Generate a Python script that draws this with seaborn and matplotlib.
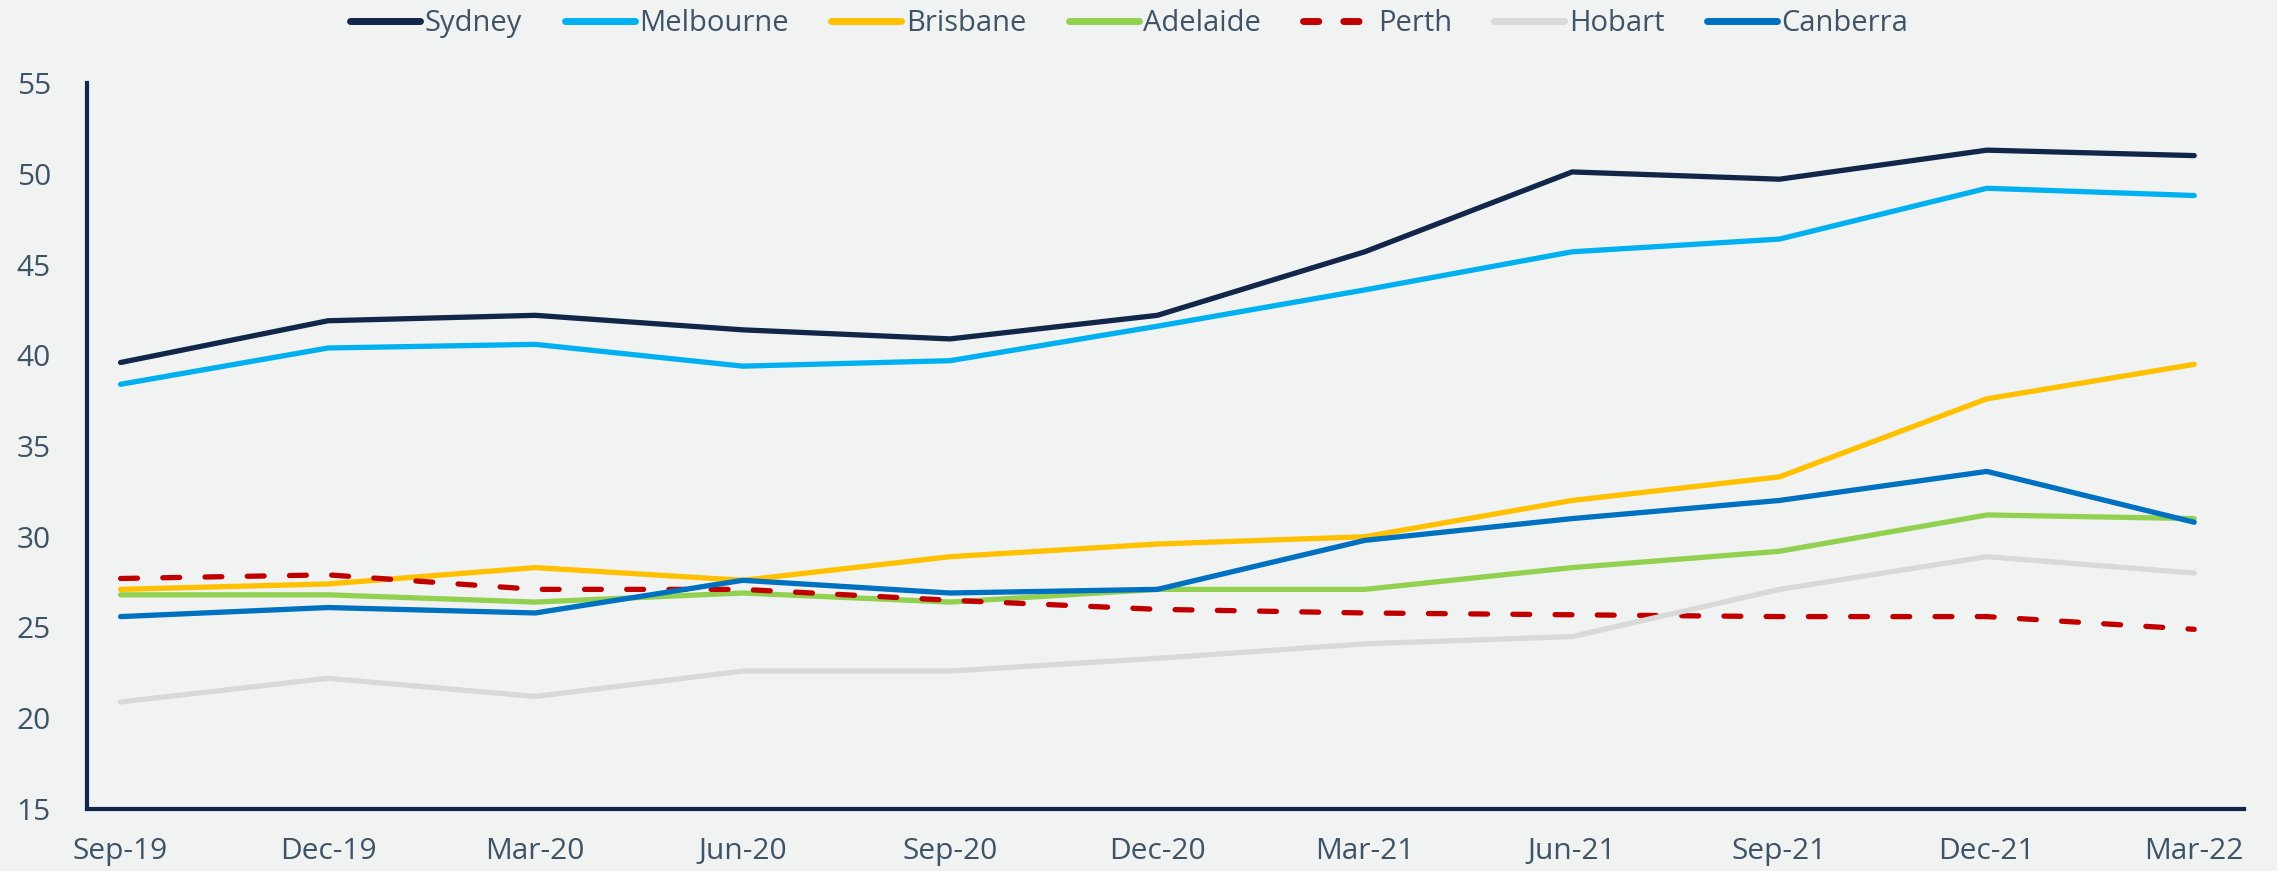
import matplotlib
matplotlib.use("Agg")
import matplotlib.pyplot as plt
import numpy as np
import pandas as pd
import seaborn as sns

# Data
quarters = ["Sep-19", "Dec-19", "Mar-20", "Jun-20", "Sep-20", "Dec-20",
            "Mar-21", "Jun-21", "Sep-21", "Dec-21", "Mar-22"]

sydney = [39.6, 41.9, 42.2, 41.4, 40.9, 42.2, 45.7, 50.1, 49.7, 51.3, 51.0]
melbourne = [38.4, 40.4, 40.6, 39.4, 39.7, 41.6, 43.6, 45.7, 46.4, 49.2, 48.8]
brisbane = [27.1, 27.4, 28.3, 27.6, 28.9, 29.6, 30.0, 32.0, 33.3, 37.6, 39.5]
adelaide = [26.8, 26.8, 26.4, 26.9, 26.4, 27.1, 27.1, 28.3, 29.2, 31.2, 31.0]
perth = [27.7, 27.9, 27.1, 27.1, 26.5, 26.0, 25.8, 25.7, 25.6, 25.6, 24.9]
hobart = [20.9, 22.2, 21.2, 22.6, 22.6, 23.3, 24.1, 24.5, 27.1, 28.9, 28.0]
canberra = [25.6, 26.1, 25.8, 27.6, 26.9, 27.1, 29.8, 31.0, 32.0, 33.6, 30.8]

cities = ["Sydney", "Melbourne", "Brisbane", "Adelaide", "Perth", "Hobart", "Canberra"]
series = [sydney, melbourne, brisbane, adelaide, perth, hobart, canberra]

colors = {"Sydney": "#12264A", "Melbourne": "#00B0F0", "Brisbane": "#FFC000",
          "Adelaide": "#92D050", "Perth": "#C00000", "Hobart": "#D9D9D9",
          "Canberra": "#0070C0"}
dashes = {c: "" for c in cities}
dashes["Perth"] = (3.2, 4.8)

rows = []
for c, vals in zip(cities, series):
    for i, v in enumerate(vals):
        rows.append({"city": c, "idx": i, "value": v})
df = pd.DataFrame(rows)

bg = "#F1F2F2"
txt = "#3F5366"
navy = "#12264A"

sns.set_style("white")
plt.rcParams['font.family'] = ['Open Sans', 'DejaVu Sans']

fig = plt.figure(figsize=(22.77, 8.71), dpi=100, facecolor=bg)
ax = fig.add_axes([0.0382, 0.0712, 0.9473, 0.8335])
ax.set_facecolor(bg)

sns.lineplot(data=df, x="idx", y="value", hue="city", style="city",
             hue_order=cities, style_order=cities, palette=colors,
             dashes=dashes, linewidth=3.8, ax=ax, legend=True)
for ln in ax.get_lines():
    ln.set_solid_capstyle("round")
    ln.set_dash_capstyle("round")

handles, labels = ax.get_legend_handles_labels()
ax.get_legend().remove()
for h in handles:
    h.set_linewidth(5)
    h.set_solid_capstyle("round")
    h.set_dash_capstyle("round")
    if h.get_label() == "Perth":
        h.set_dashes((2.2, 3.6))
fig.legend(handles, labels, loc="upper center", bbox_to_anchor=(0.496, 1.02),
           ncol=7, frameon=False, fontsize=21, handlelength=2.4,
           handletextpad=0.16, columnspacing=1.45, labelcolor=txt)

ax.set_xlim(-0.162, 10.24)
ax.set_ylim(15, 55)
ax.set_yticks(np.arange(15, 56, 5))
ax.set_xticks(range(len(quarters)))
ax.set_xticklabels(quarters)
ax.tick_params(axis="both", length=0, labelsize=21.5, colors=txt)
ax.tick_params(axis="x", pad=20)
ax.tick_params(axis="y", pad=26)
ax.set_xlabel("")
ax.set_ylabel("")

for s in ["top", "right"]:
    ax.spines[s].set_visible(False)
for s in ["left", "bottom"]:
    ax.spines[s].set_color(navy)
    ax.spines[s].set_linewidth(3)

fig.savefig("out.png", dpi=100, facecolor=bg)
